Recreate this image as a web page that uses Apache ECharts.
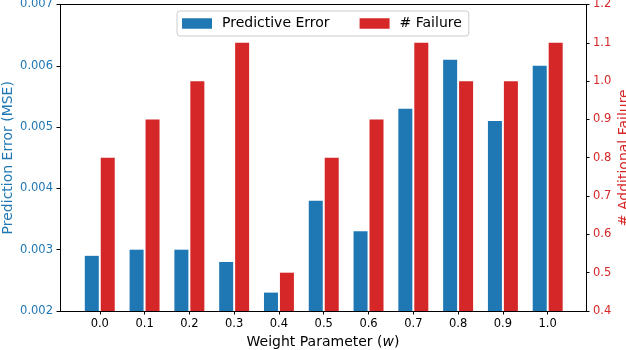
<!DOCTYPE html>
<html>
<head>
<meta charset="utf-8">
<script src="https://cdn.jsdelivr.net/npm/echarts@6/dist/echarts.min.js"></script>
<style>
  html, body { margin: 0; padding: 0; background: #fff; }
  #chart { width: 626px; height: 350px; }
</style>
</head>
<body>
<div id="chart"></div>
<script>
// weight parameter w, one group of bars per value
const categories = ['0.0', '0.1', '0.2', '0.3', '0.4', '0.5', '0.6', '0.7', '0.8', '0.9', '1.0']
const predictiveError = [0.0029, 0.0030, 0.0030, 0.0028, 0.0023, 0.0038, 0.0033, 0.0053, 0.0061, 0.0051, 0.0060]
const failures = [0.8, 0.9, 1.0, 1.1, 0.5, 0.8, 0.9, 1.1, 1.0, 1.0, 1.1]
const tickIdx = categories.map((_, i) => i)

const BLUE = '#1f77b4'
const RED = '#d62728'
const FONT = 'DejaVu Sans'

const chart = echarts.init(document.getElementById('chart'), null, { renderer: 'canvas' })

const tickStyle = { show: true, length: 3.5, inside: false, lineStyle: { color: '#000', width: 1 } }
const lineStyle = { show: true, onZero: false, lineStyle: { color: '#000', width: 1 } }

const option = {
  animation: false,
  backgroundColor: '#fff',
  grid: { left: 60, right: 40, top: 4.5, bottom: 39, outerBoundsMode: 'none', containLabel: false },
  legend: {
    left: 177,
    top: 11,
    orient: 'horizontal',
    itemWidth: 30,
    itemHeight: 10.5,
    itemGap: 30,
    padding: [4.5, 7, 4.5, 5],
    borderColor: '#cccccc',
    borderWidth: 1,
    borderRadius: 3,
    backgroundColor: 'rgba(255,255,255,0.8)',
    icon: 'rect',
    textStyle: { fontFamily: FONT, fontSize: 14, color: '#000', lineHeight: 16, padding: [0, 0, 0, 5] },
    data: ['Predictive Error', '# Failure']
  },
  xAxis: [
    {
      type: 'value',
      position: 'bottom',
      min: -0.888,
      max: 10.855,
      splitLine: { show: false },
      axisLine: lineStyle,
      axisTick: Object.assign({ customValues: tickIdx }, tickStyle),
      axisLabel: {
        customValues: tickIdx,
        formatter: v => categories[Math.round(v)],
        fontFamily: FONT,
        fontSize: 11.5,
        color: '#000',
        margin: 7
      },
      name: 'Weight Parameter ({i|w})',
      nameLocation: 'middle',
      nameGap: 24,
      nameMoveOverlap: false,
      nameTextStyle: {
        fontFamily: FONT,
        fontSize: 14,
        color: '#000',
        rich: { i: { fontFamily: FONT, fontSize: 14, fontStyle: 'italic', color: '#000' } }
      }
    },
    {
      // top edge of the frame
      type: 'value',
      position: 'top',
      min: -0.888,
      max: 10.855,
      splitLine: { show: false },
      axisLine: lineStyle,
      axisTick: { show: false },
      axisLabel: { show: false }
    }
  ],
  yAxis: [
    {
      type: 'value',
      position: 'left',
      min: 0.002,
      max: 0.007,
      interval: 0.001,
      splitLine: { show: false },
      axisLine: lineStyle,
      axisTick: tickStyle,
      axisLabel: { formatter: v => v.toFixed(3), fontFamily: FONT, fontSize: 11.5, color: BLUE, margin: 7 },
      name: 'Prediction Error (MSE)',
      nameLocation: 'middle',
      nameRotate: 90,
      nameGap: 45,
      nameMoveOverlap: false,
      nameTextStyle: { fontFamily: FONT, fontSize: 14, color: BLUE }
    },
    {
      type: 'value',
      position: 'right',
      min: 0.4,
      max: 1.2,
      interval: 0.1,
      splitLine: { show: false },
      axisLine: lineStyle,
      axisTick: tickStyle,
      axisLabel: { formatter: v => v.toFixed(1), fontFamily: FONT, fontSize: 11.5, color: RED, margin: 7 },
      name: '# Additional Failure',
      nameLocation: 'middle',
      nameRotate: 90,
      nameGap: 31,
      nameMoveOverlap: false,
      nameTextStyle: { fontFamily: FONT, fontSize: 14, color: RED }
    }
  ],
  series: [
    {
      name: 'Predictive Error',
      type: 'bar',
      xAxisIndex: 0,
      yAxisIndex: 0,
      barWidth: 14,
      barGap: '14%',
      itemStyle: { color: BLUE },
      data: predictiveError.map((v, i) => [i, v])
    },
    {
      name: '# Failure',
      type: 'bar',
      xAxisIndex: 0,
      yAxisIndex: 1,
      barWidth: 14,
      barGap: '14%',
      itemStyle: { color: RED },
      data: failures.map((v, i) => [i, v])
    }
  ]
}

chart.setOption(option)
</script>
</body>
</html>
